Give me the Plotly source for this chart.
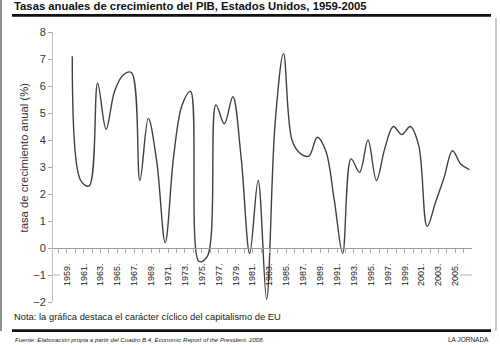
import plotly.graph_objects as go

# ---- data ----
years = list(range(1959, 2007))
growth = [7.1, 2.5, 2.3, 6.1, 4.4, 5.8, 6.4, 6.5, 2.5, 4.8,
          3.2, 0.2, 3.4, 5.3, 5.8, -0.5, -0.3, 5.3, 4.6, 5.6,
          3.3, -0.2, 2.5, -1.9, 4.6, 7.2, 4.0, 3.5, 3.4, 4.1,
          3.6, 1.8, -0.2, 3.3, 2.8, 4.0, 2.5, 3.7, 4.5, 4.2,
          4.5, 3.8, 0.8, 1.7, 2.6, 3.6, 3.1, 2.9]
label_years = list(range(1959, 2006, 2))
y_ticks = list(range(-2, 9))
grid_ticks = [v for v in y_ticks if v != -1]

title_text = "Tasas anuales de crecimiento del PIB, Estados Unidos, 1959-2005"
ytitle_text = "tasa de crecimiento anual (%)"
nota_text = "Nota: la gráfica destaca el carácter cíclico del capitalismo de EU"
fuente_text = "Fuente: Elaboración propia a partir del Cuadro B.4, Economic Report of the President. 2008."
brand_text = "LA JORNADA"

# ---- layout geometry (pixels) ----
W, H = 500, 345
L, R, T, B = 53, 28, 32, 43
PW, PH = W - L - R, H - T - B
LABEL_SHIFT = -0.66
FONT = "Liberation Sans, Arial, sans-serif"
GRID = "#c8c8c8"


def px(x):
    return (x - L) / PW


def py(y):
    return (H - B - y) / PH


fig = go.Figure()
fig.add_trace(go.Scatter(
    x=years, y=growth, mode="lines",
    line=dict(color="#404040", width=1.4, shape="spline", smoothing=1.0),
    hoverinfo="skip", showlegend=False,
))

fig.update_layout(
    width=W, height=H, autosize=False,
    margin=dict(l=L, r=R, t=T, b=B, pad=0),
    paper_bgcolor="white", plot_bgcolor="white",
    font=dict(family=FONT, color="#333333"),
    xaxis=dict(
        range=[1956.72, 2006.31], anchor="free", position=0.2,
        tickmode="array", tickvals=[y + LABEL_SHIFT for y in label_years],
        ticktext=[f"{y}." for y in label_years],
        tickangle=-90, tickfont=dict(size=9, color="#222222"),
        ticks="outside", ticklen=4, tickcolor="#aaaaaa", tickwidth=1,
        minor=dict(dtick=1, tick0=1958.34, ticks="outside", ticklen=4,
                   tickcolor="#aaaaaa", showgrid=False),
        ticklabelstandoff=7,
        showline=True, linecolor="#9a9a9a", linewidth=1,
        showgrid=False, zeroline=False, automargin=False,
    ),
    yaxis=dict(
        range=[-2, 8], tickmode="array", tickvals=y_ticks,
        tickfont=dict(size=11, color="#333333"),
        ticks="outside", ticklen=4, tickcolor="#aaaaaa",
        showline=True, linecolor="#c0c0c0", linewidth=1,
        showgrid=False, zeroline=False, automargin=False,
    ),
    yaxis2=dict(
        range=[-2, 8], overlaying="y", tickmode="array", tickvals=grid_ticks,
        showticklabels=False, ticks="", showline=False,
        showgrid=True, gridcolor=GRID, gridwidth=1.5,
        zeroline=False, automargin=False,
    ),
)

# short stubs of the -1 gridline at both ends of the label band
for xa, xb in ((L, 60), (460, W - R)):
    fig.add_shape(type="line", xref="paper", yref="y",
                  x0=px(xa), x1=px(xb), y0=-1, y1=-1,
                  line=dict(color=GRID, width=1.5), layer="below")

# rules and frame
for y in (15.3, 330.7):
    fig.add_shape(type="line", xref="paper", yref="paper",
                  x0=px(12), x1=px(491), y0=py(y), y1=py(y),
                  line=dict(color="#111111", width=2.7), layer="above")
fig.add_shape(type="line", xref="paper", yref="paper",
              x0=px(1), x1=px(1), y0=py(0), y1=py(331),
              line=dict(color="#444444", width=1.2), layer="above")
fig.add_shape(type="line", xref="paper", yref="paper",
              x0=px(496), x1=px(496), y0=py(18), y1=py(331),
              line=dict(color="#999999", width=1), layer="above")

# texts
fig.add_annotation(text=f"<b>{title_text}</b>", xref="paper", yref="paper",
                   x=px(12), y=py(6), xanchor="left", yanchor="middle",
                   showarrow=False, font=dict(size=11.3, color="#111111"))
fig.add_annotation(text=ytitle_text, xref="paper", yref="paper",
                   x=px(23), y=py(157.5), xanchor="center", yanchor="middle",
                   textangle=-90, showarrow=False,
                   font=dict(size=11.3, color="#333333"))
fig.add_annotation(text=nota_text, xref="paper", yref="paper",
                   x=px(11.5), y=py(316), xanchor="left", yanchor="middle",
                   showarrow=False, font=dict(size=9.4, color="#222222"))
fig.add_annotation(text=f"<i>{fuente_text}</i>", xref="paper", yref="paper",
                   x=px(12.5), y=py(339.3), xanchor="left", yanchor="middle",
                   showarrow=False, font=dict(size=6.1, color="#222222"))
fig.add_annotation(text=brand_text, xref="paper", yref="paper",
                   x=px(491), y=py(339.5), xanchor="right", yanchor="middle",
                   showarrow=False, font=dict(size=6.5, color="#222222"))

fig.write_html("out.html")
